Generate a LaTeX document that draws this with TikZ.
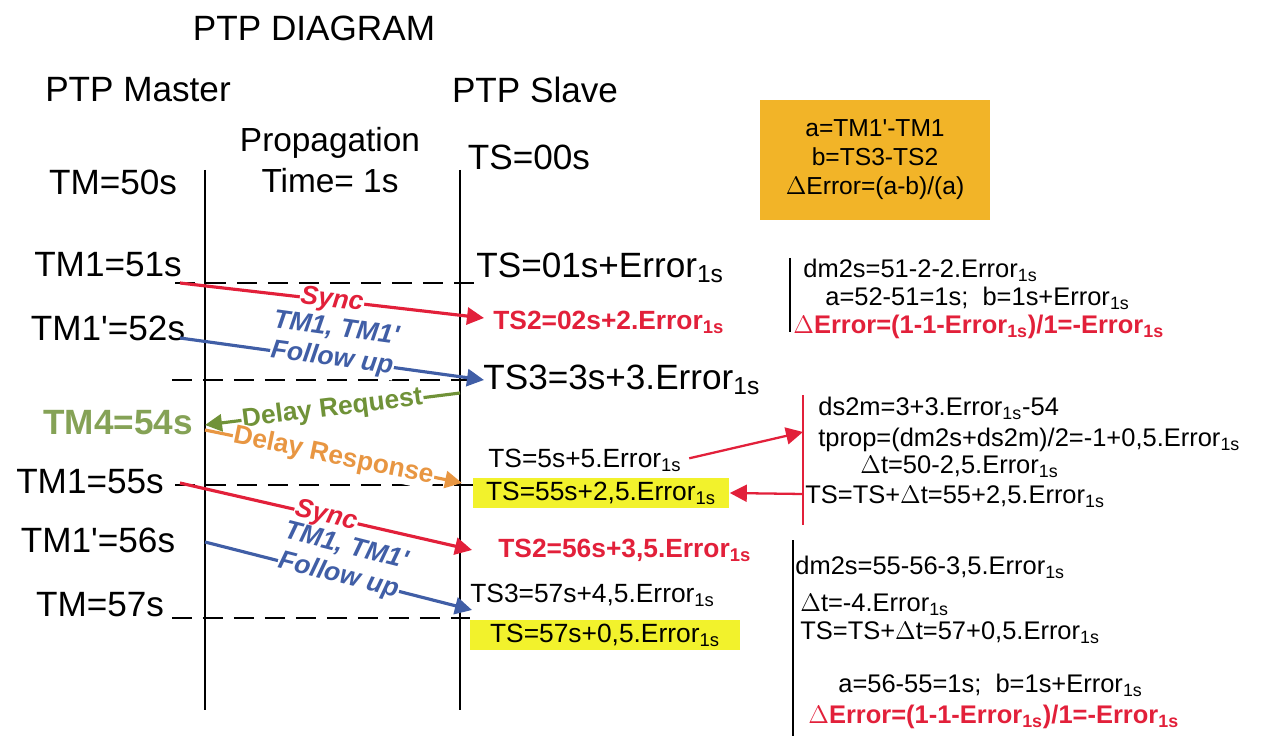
\documentclass[tikz,border=0pt]{standalone}
\usepackage{fontspec}
\setmainfont{Liberation Sans}
\usetikzlibrary{arrows.meta,positioning}

\definecolor{syncred}{RGB}{226,32,58}
\definecolor{fublue}{RGB}{64,94,166}
\definecolor{reqgreen}{RGB}{112,146,56}
\definecolor{respor}{RGB}{232,150,66}
\definecolor{hlyellow}{RGB}{242,242,44}
\definecolor{boxgold}{RGB}{242,180,40}

\newcommand{\errs}{Error\textsubscript{1s}}

\begin{document}
\begin{tikzpicture}[x=0.02cm, y=-0.02cm,
  big/.style={font=\fontsize{20}{24}\selectfont, inner sep=0pt},
  mid/.style={font=\fontsize{15}{18}\selectfont, anchor=west, inner sep=0pt},
  calc/.style={font=\fontsize{14.5}{17}\selectfont, anchor=west, inner sep=0pt},
  tline/.style={line width=1.2pt},
  hline/.style={line width=1.2pt, dash pattern=on 0.4cm off 0.22cm},
  arr/.style={line width=1.8pt, -{Triangle[length=3.4mm, width=3.4mm]}},
  lbl/.style={sloped, fill=white, inner sep=0.5pt, font=\fontsize{15}{17}\selectfont\bfseries\itshape},
  hl/.style={fill=hlyellow, minimum height=0.6cm, inner sep=0pt, font=\fontsize{15}{18}\selectfont}]

\useasboundingbox (0,0) rectangle (1270,736);

\node (title) [big] at (314,28) {PTP DIAGRAM};
\node (master) [big] at (138,90) {PTP Master};
\node (slave) [big] at (535,90) {PTP Slave};
\node (prop) [big, align=center, font=\fontsize{19}{23}\selectfont] at (330,160) {Propagation\\Time= 1s};

\node (formula) [fill=boxgold, minimum width=4.6cm, minimum height=2.4cm, align=center,
  font=\fontsize{14}{16.5}\selectfont] at (875,160)
  {a=TM1\textquotesingle-TM1\\b=TS3-TS2\\$\Delta$Error=(a-b)/(a)};

% time lines
\draw[tline] (205,170) -- (205,710);
\draw[tline] (460,170) -- (460,710);

% master side
\node (tm50) [big] at (113,182) {TM=50s};
\node (tm51) [big] at (108,265) {TM1=51s};
\node (tm52) [big] at (108,328) {TM1\textquotesingle=52s};
\node (tm54) [big, text=reqgreen!85!white, font=\fontsize{20}{24}\selectfont\bfseries] at (118,423) {TM4=54s};
\node (tm55) [big] at (90,482) {TM1=55s};
\node (tm56) [big] at (98,540) {TM1\textquotesingle=56s};
\node (tm57) [big] at (100,605) {TM=57s};

% slave side
\node (ts00) [big] at (529,157) {TS=00s};
\node (ts01) [big, anchor=west] at (476,268) {TS=01s+\errs};
\node (ts2a) [mid, text=syncred, font=\fontsize{15}{18}\selectfont\bfseries] at (493,322) {TS2=02s+2.\errs};
\node (ts3a) [big, anchor=west] at (483,380) {TS3=3s+3.\errs};
\node (ts5) [mid] at (488,460) {TS=5s+5.\errs};
\node (hl1) [hl, minimum width=5.14cm] at (601,493) {TS=55s+2,5.\errs};
\node (ts2b) [mid, text=syncred, font=\fontsize{15}{18}\selectfont\bfseries] at (498,550) {TS2=56s+3,5.\errs};
\node (ts3b) [mid] at (470,595) {TS3=57s+4,5.\errs};
\node (hl2) [hl, minimum width=5.4cm] at (605,635) {TS=57s+0,5.\errs};

\draw[hline] (175,283) -- (478,283);
\draw[hline] (172,380) -- (478,380);
\draw[hline] (175,485) -- (473,485);
\draw[hline] (172,618) -- (470,618);

% message end points
\coordinate (m51) at (180,283);
\coordinate (s52) at (484,318);
\coordinate (m52) at (180,338);
\coordinate (s53) at (484,380);
\coordinate (s54) at (460,393);
\coordinate (m54) at (205,425);
\coordinate (m54b) at (205,430);
\coordinate (s55) at (462,483);
\coordinate (m55) at (180,483);
\coordinate (s56) at (472,550);
\coordinate (m56) at (205,542);
\coordinate (s57) at (472,610);

\draw[arr, syncred] (m51) -- node[lbl] {Sync} (s52);
\draw[arr, fublue] (m52) -- node[lbl] {Follow up} node[lbl, fill=none, above=3.4mm] {TM1, TM1\textquotesingle} (s53);
\draw[arr, reqgreen] (s54) -- node[lbl, font=\fontsize{15}{17}\selectfont\bfseries] {Delay Request} (m54);
\draw[arr, respor] (m54b) -- node[lbl, font=\fontsize{15}{17}\selectfont\bfseries] {Delay Response} (s55);
\draw[arr, syncred] (m55) -- node[lbl] {Sync} (s56);
\draw[arr, fublue] (m56) -- node[lbl] {Follow up} node[lbl, fill=none, above=3.4mm] {TM1, TM1\textquotesingle} (s57);

% first sync calculation
\draw[tline] (790,258) -- (790,332);
\node (c1a) [calc] at (803,270) {dm2s=51-2-2.\errs};
\node (c1b) [calc] at (825,298) {a=52-51=1s;\ \ b=1s+\errs};
\node (c1c) [calc, text=syncred, font=\fontsize{14.5}{17}\selectfont\bfseries] at (793,327) {$\Delta$Error=(1-1-\errs)/1=-\errs};

% delay calculation
\draw[line width=1.5pt, syncred] (803,395) -- (803,525);
\coordinate (r1) at (803,432);
\coordinate (r2) at (803,494);
\node (c2a) [calc] at (818,408) {ds2m=3+3.\errs-54};
\node (c2b) [calc] at (818,440) {tprop=(dm2s+ds2m)/2=-1+0,5.\errs};
\node (c2c) [calc] at (860,467) {$\Delta$t=50-2,5.\errs};
\node (c2d) [calc] at (805,497) {TS=TS+$\Delta$t=55+2,5.\errs};
\draw[arr, syncred, line width=1.3pt, shorten <=1.5mm] (ts5.east) -- (r1);
\draw[arr, syncred, line width=1.3pt] (r2) -- (hl1.east);

% second sync calculation
\draw[tline] (793,540) -- (793,736);
\node (c3a) [calc] at (795,567) {dm2s=55-56-3,5.\errs};
\node (c3b) [calc] at (800,605) {$\Delta$t=-4.\errs};
\node (c3c) [calc] at (800,633) {TS=TS+$\Delta$t=57+0,5.\errs};
\node (c3d) [calc] at (838,685) {a=56-55=1s;\ \ b=1s+\errs};
\node (c3e) [calc, text=syncred, font=\fontsize{14.5}{17}\selectfont\bfseries] at (808,717) {$\Delta$Error=(1-1-\errs)/1=-\errs};

\end{tikzpicture}
\end{document}
